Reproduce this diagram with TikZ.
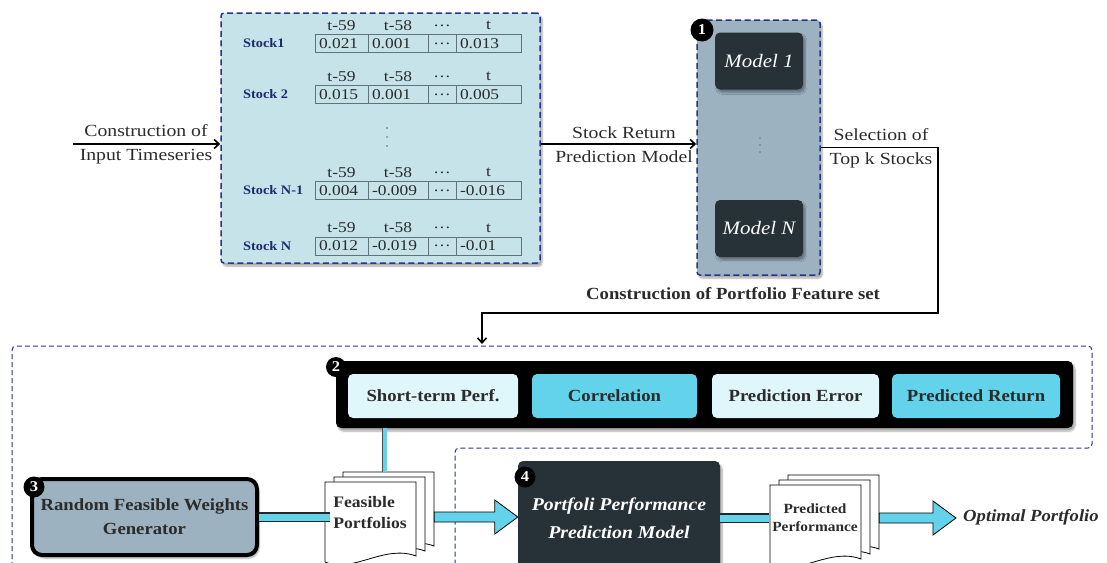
\documentclass[tikz,border=0pt]{standalone}
\usepackage{fontspec}
\setmainfont{Liberation Serif}[FakeStretch=1.1]
\newfontfamily\widerm{Liberation Serif}[FakeStretch=1.16]
\usetikzlibrary{calc,arrows.meta,shadows.blur}
\definecolor{navy}{HTML}{27348B}
\definecolor{panelblue}{HTML}{C6E3EA}
\definecolor{panelgray}{HTML}{9DB2C0}
\definecolor{darkbox}{HTML}{263238}
\definecolor{cyanc}{HTML}{62D3EA}
\definecolor{lightc}{HTML}{DFF6FA}
\definecolor{cellline}{HTML}{5F7378}
\definecolor{stockblue}{HTML}{1E2A6E}
\definecolor{txt}{HTML}{2B2B2B}
\newcommand\fsz[2]{\fontsize{#1}{#2}\selectfont}
% stacked document sheet: x, y (top-left), width, height
\newcommand\sheet[4]{%
  \filldraw[sheetst] (#1,#2) -- ({#1+#3},#2) -- ({#1+#3},{#2+#4-6})
    .. controls ({#1+0.65*#3},{#2+#4-18}) and ({#1+0.3*#3},{#2+#4+12}) .. (#1,{#2+#4}) -- cycle;}
% wide block arrow between two points (horizontal)
\newcommand\fatarrow[2]{%
  \filldraw[fatar] let \p1=(#1), \p2=(#2) in
    ({\x1},{\y1+5pt}) -- ({\x2-23pt},{\y1+5pt}) -- ({\x2-23pt},{\y1+17pt}) -- ({\x2},{\y1})
    -- ({\x2-23pt},{\y1-17pt}) -- ({\x2-23pt},{\y1-5pt}) -- ({\x1},{\y1-5pt}) -- cycle;}
\begin{document}
\begin{tikzpicture}[x=1pt,y=-1pt,
  shad/.style={blur shadow={shadow xshift=2pt, shadow yshift=-3pt, shadow blur steps=6, shadow opacity=35}},
  panel/.style={draw=navy, line width=1.5, dash pattern=on 6pt off 3.5pt, rounded corners=3},
  flow/.style={draw=black, line width=1.2, -{Straight Barb[length=5pt,width=9pt,line width=1.6pt]}},
  flowtxt/.style={text=txt, font=\widerm\fsz{17}{20}},
  stocklab/.style={text=stockblue, font=\bfseries\fsz{13}{15}, inner sep=0},
  cell/.style={draw=cellline, line width=0.8, minimum height=18, inner xsep=4, inner ysep=0, align=left, text=txt, font=\widerm\fsz{15}{16}},
  hdr/.style={text=txt, font=\widerm\fsz{15}{16}, inner sep=0},
  model/.style={fill=darkbox, rounded corners=5, minimum width=88, minimum height=57, text=white, font=\itshape\fsz{19}{22}, shad},
  badge/.style={circle, fill=black, text=white, font=\bfseries\fsz{15}{15}, inner sep=0, minimum size=#1},
  feature/.style={rounded corners=5, minimum height=44, text=txt, font=\bfseries\fsz{17}{20}},
  sheetst/.style={fill=white, draw=black, line width=0.8},
  fatar/.style={fill=cyanc, draw=black, line width=0.8},
  cbar/.style={draw=cyanc, line width=7, preaction={draw=black!85, line width=9.5}},
  cvbar/.style={draw=cyanc, line width=4, preaction={draw=black!70, line width=5.5}},
  outer/.style={draw=navy, line width=1, dash pattern=on 5pt off 3pt, rounded corners=4}
]
\useasboundingbox (0,0) rectangle (1107,562);

% ---------------- input time series panel ----------------
\node[panel, fill=panelblue, minimum width=319, minimum height=250, shad] (tbl) at (380.5,138) {};
\foreach \r/\yc/\lab/\va/\vb/\vd in {1/43.5/Stock1/0.021/0.001/0.013,
    2/94.5/Stock 2/0.015/0.001/0.005,
    3/190.5/Stock N-1/0.004/-0.009/-0.016,
    4/246/Stock N/0.012/-0.019/-0.01}{
  \node[stocklab, anchor=west] (s\r) at (243,\yc) {\lab};
  \node[cell, text width=45] (c\r-a) at (341.5,\yc) {\va};
  \node[cell, text width=52] (c\r-b) at (398,\yc) {\vb};
  \node[cell, text width=20, align=center] (c\r-c) at (442,\yc) {\dots};
  \node[cell, text width=57] (c\r-d) at (488.5,\yc) {\vd};
  \node[hdr] (h\r-a) at (341.5,\yc-18) {t-59};
  \node[hdr] (h\r-b) at (398,\yc-18) {t-58};
  \node[hdr] (h\r-c) at (442,\yc-18) {\dots};
  \node[hdr] (h\r-d) at (488.5,\yc-18) {t};
}
\foreach \yy in {128,137,146} \fill[black!60] (387,\yy) circle (0.9);

\coordinate (src) at (73,144);
\draw[flow] (src) -- (src -| tbl.west);
\node[flowtxt] (lin1) at (146,131) {Construction of};
\node[flowtxt] (lin2) at (146,157) {Input Timeseries};

% ---------------- model panel ----------------
\node[panel, fill=panelgray, minimum width=123, minimum height=255, shad] (models) at (758.5,147.5) {};
\node[model] (m1) at (759,61) {Model 1};
\node[model] (mN) at (759,228.5) {Model N};
\foreach \yy in {138,145,152} \fill[black!55] (760,\yy) circle (0.9);
\node[badge=23] (b1) at (702,30) {1};

\draw[flow] (tbl.east |- src) -- (models.west |- src);
\node[flowtxt] (sr1) at (624,133) {Stock Return};
\node[flowtxt] (sr2) at (624,157) {Prediction Model};

\node[flowtxt] (sel1) at (881,135) {Selection of};
\node[flowtxt] (sel2) at (881,160) {Top k Stocks};

\coordinate (turn) at (938,313);
\coordinate (fsin) at (482,344);
\draw[flow] (models.east) -| (turn) -| (fsin);
\node[text=txt, font=\bfseries\fsz{17}{20}] (cpf) at (733,294) {Construction of Portfolio Feature set};

% ---------------- lower region ----------------
\draw[outer] (12,575) -- (12,346) -- (1092,346) -- (1092,448) -- (455,448) -- (455,575);

\node[fill=black, rounded corners=5, minimum width=737, minimum height=67, shad] (feat) at (704.5,394.5) {};
\node[feature, fill=lightc, minimum width=170] (st) at (433,396) {Short-term Perf.};
\node[feature, fill=cyanc, minimum width=165] (corr) at (614.5,396) {Correlation};
\node[feature, fill=lightc, minimum width=167] (perr) at (795.5,396) {Prediction Error};
\node[feature, fill=cyanc, minimum width=168] (pret) at (976,396) {Predicted Return};
\node[badge=20] (b2) at (336,367) {2};

% random weights generator
\node[draw=black, line width=4, fill=panelgray, rounded corners=10, minimum width=225, minimum height=76,
      align=center, text=txt, font=\bfseries\fsz{17}{24}, shad] (gen) at (144.5,517)
      {Random Feasible Weights\\Generator};
\node[badge=21] (b3) at (34,487) {3};

% feasible portfolios stack
\sheet{343}{472}{91}{80}
\sheet{334}{477}{91}{80}
\sheet{325}{482}{91}{80}
\node[minimum width=91, minimum height=80] (fpback) at (388.5,512) {};
\node[align=left, text=txt, font=\bfseries\fsz{16}{21}] (fp) at (370,513) {Feasible\\Portfolios};

\draw[cvbar] (fpback.north) ++(-4,0) coordinate (fpt) -- (fpt |- feat.south);
\draw[cbar] (gen.east) -- (gen.east -| fp.west);

% performance prediction model
\node[fill=darkbox, rounded corners=5, minimum width=202, minimum height=114, align=center,
      text=white, font=\bfseries\itshape\fsz{18}{28}, shad] (ppm) at (619,518)
      {Portfoli Performance\\Prediction Model};
\node[badge=21] (b4) at (525,477) {4};
\fatarrow{gen.east -| fpback.east}{gen.east -| ppm.west}

% predicted performance stack
\sheet{788}{475}{91}{80}
\sheet{779}{480}{91}{80}
\sheet{770}{485}{91}{80}
\node[minimum width=91, minimum height=80] (ppback) at (833.5,515) {};
\node[align=center, text=txt, font=\bfseries\fsz{14}{18}] (pp) at (815,518) {Predicted\\Performance};
\draw[cbar] (ppm.east) -- (ppm.east -| pp.west);

\node[anchor=west, inner xsep=7, text=txt, font=\bfseries\itshape\fsz{17}{20}] (opt) at (956,517) {Optimal Portfolio};
\fatarrow{ppm.east -| ppback.east}{opt.west}
\end{tikzpicture}
\end{document}
